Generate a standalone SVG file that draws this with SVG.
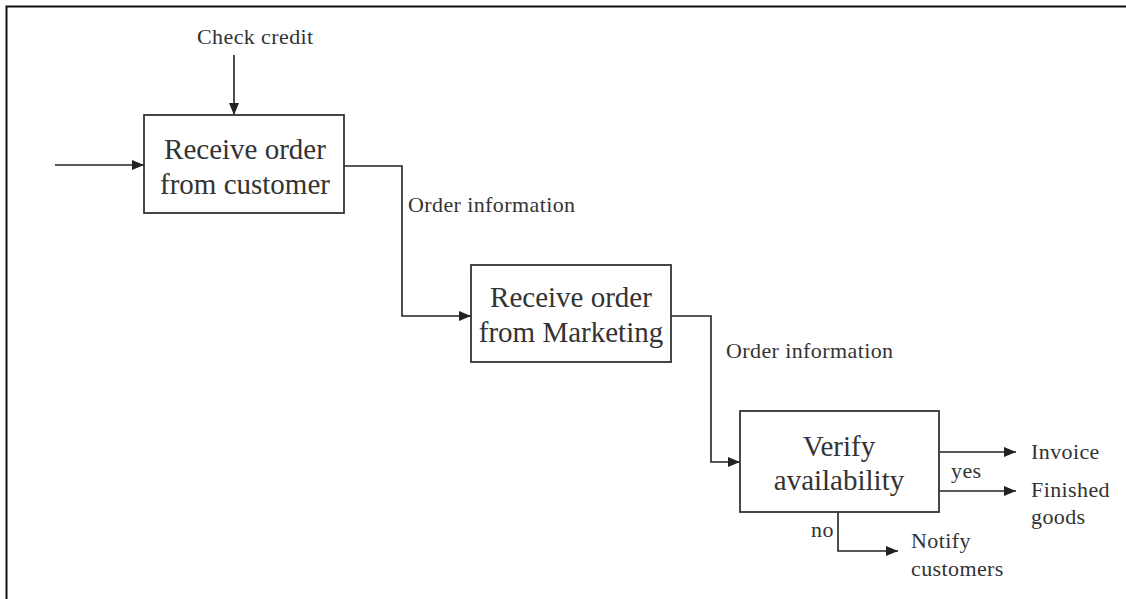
<svg xmlns="http://www.w3.org/2000/svg" width="1126" height="599" viewBox="0 0 1126 599">
<defs>
<marker id="arr" viewBox="0 0 12 10" refX="12" refY="5" markerWidth="12" markerHeight="10" markerUnits="userSpaceOnUse" orient="auto">
<path d="M0,0 L12,5 L0,10 Z" fill="#222"/>
</marker>
<style>
.box{fill:#fff;stroke:#333;stroke-width:1.8}
.bt{font-family:"Liberation Serif",serif;font-size:29px;fill:#333;text-anchor:middle}
.lb{font-family:"Liberation Serif",serif;font-size:22px;letter-spacing:0.4px;fill:#333}
.ln{fill:none;stroke:#222;stroke-width:1.6}
</style>
</defs>
<rect width="1126" height="599" fill="#fff"/>
<polyline points="6.5,599 6.5,6.5 1126,6.5" fill="none" stroke="#111" stroke-width="2"/>
<g id="connectors">
<line class="ln" x1="55" y1="165" x2="144" y2="165" marker-end="url(#arr)"/>
<line class="ln" x1="234" y1="55" x2="234" y2="115" marker-end="url(#arr)"/>
<polyline class="ln" points="344,166 402,166 402,316 471,316" marker-end="url(#arr)"/>
<polyline class="ln" points="671,316 711,316 711,462 740,462" marker-end="url(#arr)"/>
<line class="ln" x1="939" y1="452" x2="1016" y2="452" marker-end="url(#arr)"/>
<line class="ln" x1="939" y1="491" x2="1016" y2="491" marker-end="url(#arr)"/>
<polyline class="ln" points="838,512 838,551 898,551" marker-end="url(#arr)"/>
<text class="lb" x="197" y="44">Check credit</text>
<text class="lb" x="408" y="212">Order information</text>
<text class="lb" x="726" y="358">Order information</text>
<text class="lb" x="951" y="478">yes</text>
<text class="lb" x="811" y="537">no</text>
<text class="lb" x="1031" y="459">Invoice</text>
<text class="lb" x="1031" y="497">Finished</text>
<text class="lb" x="1031" y="524">goods</text>
<text class="lb" x="911" y="548">Notify</text>
<text class="lb" x="911" y="576">customers</text>
</g>
<g id="node1">
<rect class="box" x="144" y="115" width="200" height="98"/>
<text class="bt" x="245" y="159">Receive order</text>
<text class="bt" x="245" y="194">from customer</text>
</g>
<g id="node2">
<rect class="box" x="471" y="265" width="200" height="97"/>
<text class="bt" x="571" y="307">Receive order</text>
<text class="bt" x="571" y="342">from Marketing</text>
</g>
<g id="node3">
<rect class="box" x="740" y="411" width="199" height="101"/>
<text class="bt" x="839" y="456">Verify</text>
<text class="bt" x="839" y="490">availability</text>
</g>
</svg>
